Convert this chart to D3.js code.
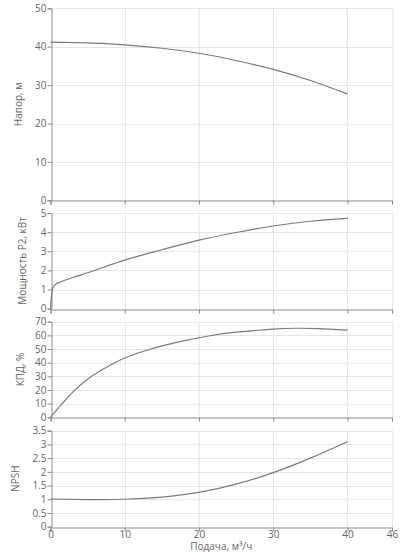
<!DOCTYPE html>
<html><head><meta charset="utf-8">
<script src="https://cdn.jsdelivr.net/npm/d3@7"></script>
<style>body{margin:0;background:#fff}svg{display:block}</style>
</head><body>
<script>
const xTicks = [0, 10, 20, 30, 40, 46];
const xTitle = "Подача, м³/ч";
const headQ = [0, 5, 10, 15, 20, 25, 30, 35, 40];
const headH = [41.2, 41.0, 40.5, 39.6, 38.3, 36.4, 34.1, 31.2, 27.7];
const powerQ = [0, 0.15, 0.4, 0.8, 1.5, 3, 5, 10, 15, 20, 25, 30, 35, 40];
const powerP = [0, 0.7, 1.15, 1.3, 1.42, 1.63, 1.88, 2.54, 3.08, 3.58, 3.98, 4.32, 4.57, 4.72];
const effQ = [0, 2.6, 5.3, 8, 10, 13.4, 17.9, 21.5, 25, 30, 33, 36, 40];
const effE = [0, 16.3, 29.2, 38.0, 43.4, 49.8, 55.9, 59.7, 62.3, 64.6, 65.2, 65.0, 63.9];
const npshQ = [0, 5, 10, 15, 20, 25, 30, 35, 40];
const npshN = [1.01, 0.99, 1.0, 1.08, 1.25, 1.55, 1.97, 2.5, 3.1];
const panelTitles = ["Напор, м", "Мощность P2, кВт", "КПД, %", "NPSH"];
const panelTicks = [[0,10,20,30,40,50],[0,1,2,3,4,5],[0,10,20,30,40,50,60,70],[0,0.5,1,1.5,2,2.5,3,3.5]];

const W = 401, H = 552;
const FONT = "'Open Sans', sans-serif";
const svg = d3.select("body").append("svg").attr("width", W).attr("height", H)
  .style("font-family", FONT);
const x = d3.scaleLinear().domain([0, 46]).range([50.5, 392]);
const panels = [
  {top: 8.3, bottom: 200.3, qs: headQ, vs: headH, titleX: 18.5, curve: d3.curveNatural},
  {top: 213, bottom: 308.7, qs: powerQ, vs: powerP, titleX: 22.5, curve: d3.curveMonotoneX},
  {top: 321.7, bottom: 417.3, qs: effQ, vs: effE, titleX: 20.5, curve: d3.curveNatural},
  {top: 430.7, bottom: 526.7, qs: npshQ, vs: npshN, titleX: 15.5, curve: d3.curveNatural}
];
panels.forEach((p, i) => {
  const ticks = panelTicks[i];
  const y = d3.scaleLinear().domain([ticks[0], ticks[ticks.length-1]]).range([p.bottom, p.top]);
  const g = svg.append("g");
  g.selectAll(".hg").data(ticks.slice(1)).join("line")
    .attr("x1", x(0)).attr("x2", x(46)).attr("y1", d => Math.round(y(d))+0.5).attr("y2", d => Math.round(y(d))+0.5)
    .attr("stroke", "#e6e6e6");
  g.selectAll(".vg").data(xTicks.slice(1)).join("line")
    .attr("x1", d => Math.round(x(d))+0.5).attr("x2", d => Math.round(x(d))+0.5).attr("y1", p.top).attr("y2", p.bottom)
    .attr("stroke", "#e6e6e6");
  const ya = d3.axisLeft(y).tickValues(ticks).tickSize(4).tickPadding(1).tickFormat(d => String(d));
  const yg = g.append("g").attr("transform", `translate(${Math.round(x(0))+0.5},0)`).call(ya);
  yg.select(".domain").attr("stroke", "#8c8c8c");
  yg.selectAll(".tick line").attr("stroke", "#8c8c8c");
  yg.selectAll("text").attr("fill", "#666").style("font-size", "10px").style("font-family", FONT);
  const xa = d3.axisBottom(x).tickValues(xTicks).tickSize(4).tickPadding(0).tickFormat(i === 3 ? d => String(d) : "");
  const xg = g.append("g").attr("transform", `translate(0,${Math.round(p.bottom)+0.5})`).call(xa);
  xg.select(".domain").attr("stroke", "#8c8c8c");
  xg.selectAll(".tick line").attr("stroke", "#8c8c8c");
  xg.selectAll("text").attr("fill", "#666").style("font-size", "10px").style("font-family", FONT)
    .attr("y", 10).attr("dy", null);
  const pts = p.qs.map((q, k) => [q, p.vs[k]]);
  g.append("path").datum(pts)
    .attr("d", d3.line().x(d => x(d[0])).y(d => y(d[1])).curve(p.curve))
    .attr("fill", "none").attr("stroke", "#7a7a7a").attr("stroke-width", 1.2);
  g.append("text").attr("transform", `translate(${p.titleX},${(p.top+p.bottom)/2}) rotate(-90)`)
    .attr("text-anchor", "middle").attr("dy", "0.35em").attr("fill", "#666").style("font-size", "10px")
    .text(panelTitles[i]);
});
svg.append("text").attr("x", x(23)).attr("y", 550).attr("text-anchor", "middle")
  .attr("fill", "#666").style("font-size", "10px").text(xTitle);
</script>
</body></html>
